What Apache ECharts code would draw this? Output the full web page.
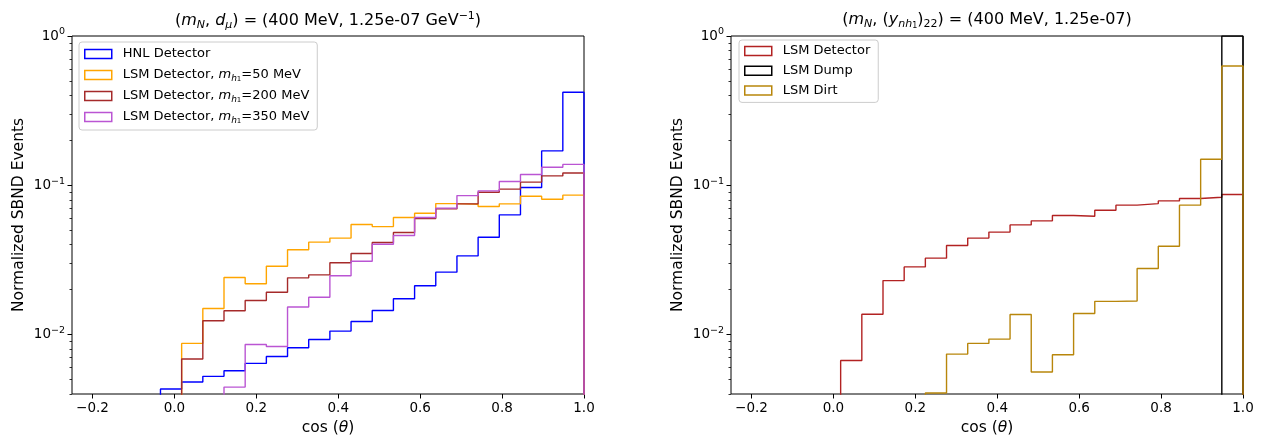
<!DOCTYPE html>
<html><head><meta charset="utf-8">
<script src="https://cdn.jsdelivr.net/npm/echarts@6/dist/echarts.min.js"></script>
<style>html,body{margin:0;padding:0;background:#fff}#c{width:1261px;height:436px}</style>
</head><body><div id="c"></div>
<script>
// ---- data ----
const binEdges = [-0.034, 0.0177, 0.0694, 0.1211, 0.1728, 0.2245, 0.2762, 0.3279, 0.3796, 0.4313,
  0.483, 0.5347, 0.5864, 0.6381, 0.6898, 0.7415, 0.7932, 0.8449, 0.8966, 0.9483, 1.0];
const xTicks = [-0.2, 0.0, 0.2, 0.4, 0.6, 0.8, 1.0];
const yMajorTicks = [0.01, 0.1, 1];
const yMinorTicks = [0.004, 0.005, 0.006, 0.007, 0.008, 0.009,
  0.02, 0.03, 0.04, 0.05, 0.06, 0.07, 0.08, 0.09,
  0.2, 0.3, 0.4, 0.5, 0.6, 0.7, 0.8, 0.9];

// left panel
const hnlDetector = [0.00432, 0.00481, 0.00525, 0.00573, 0.00641, 0.00714, 0.00816, 0.00927, 0.01055, 0.01224,
  0.01449, 0.01737, 0.02123, 0.0262, 0.03366, 0.04488, 0.0634, 0.0966, 0.170, 0.420];
const lsm50 = [0, 0.00873, 0.01495, 0.0241, 0.0219, 0.0287, 0.0370, 0.0416, 0.0443, 0.0546,
  0.0529, 0.0608, 0.0650, 0.0754, 0.0747, 0.0721, 0.0751, 0.0845, 0.0807, 0.0859];
const lsm200 = [0, 0.00686, 0.01237, 0.01443, 0.0169, 0.0192, 0.0240, 0.0251, 0.0303, 0.0349,
  0.0414, 0.0483, 0.0599, 0.0695, 0.0751, 0.0899, 0.0942, 0.105, 0.1156, 0.121];
const lsm350 = [0, 0, 0, 0.00445, 0.00859, 0.00832, 0.0153, 0.0178, 0.0248, 0.0310,
  0.0403, 0.0461, 0.0608, 0.0703, 0.0853, 0.0918, 0.106, 0.118, 0.132, 0.138];

// right panel
const lsmDetector = [0, 0.00671, 0.0137, 0.0230, 0.0284, 0.0325, 0.0395, 0.0443, 0.0486, 0.0543,
  0.0578, 0.0627, 0.0621, 0.0681, 0.0736, 0.0754, 0.0786, 0.0815, 0.0832, 0.0867];
const lsmDump = [0, 0, 0, 0, 0, 0, 0, 0, 0, 0, 0, 0, 0, 0, 0, 0, 0, 0, 0, 1.0];
const lsmDirt = [0, 0, 0, 0, 0, 0.00406, 0.0074, 0.00873, 0.00933, 0.01364,
  0.00561, 0.00733, 0.01384, 0.0167, 0.0168, 0.0277, 0.0391, 0.0736, 0.1496, 0.630];

const Y_MIN = 0.004, Y_MAX = 1, X_MIN = -0.25, X_MAX = 1.0;
const FONT = 'DejaVu Sans';
const TICK_FS = 13.5, LABEL_FS = 15.5, TITLE_FS = 16, LEGEND_FS = 13;

// ---- helpers ----
const lg = v => Math.log10(v);
const LOW = -8; // empty bins fall far below the axis and are clipped
function stepPoints(vals) {
  const pts = [[binEdges[0], LOW]];
  vals.forEach((v, j) => {
    const y = v > 0 ? lg(v) : LOW;
    pts.push([binEdges[j], y], [binEdges[j + 1], y]);
  });
  pts.push([binEdges[binEdges.length - 1], LOW]);
  return pts;
}

const gridPos = [
  { left: 72, top: 36, width: 512, height: 358 },
  { left: 731, top: 36, width: 512, height: 358 }
];

function xAxisFor(i) {
  return {
    type: 'value', gridIndex: i, min: X_MIN, max: X_MAX, position: 'bottom',
    name: 'cos ({t|θ})', nameLocation: 'middle', nameGap: 21,
    nameTextStyle: { fontFamily: FONT, fontSize: LABEL_FS, color: '#000',
      rich: { t: { fontFamily: FONT, fontSize: LABEL_FS, fontStyle: 'italic', color: '#000' } } },
    axisLine: { show: false, onZero: false },
    axisTick: { show: true, length: 4.5, customValues: xTicks, lineStyle: { color: '#000', width: 1 } },
    axisLabel: { show: true, customValues: xTicks, margin: 7, fontFamily: FONT, fontSize: TICK_FS, color: '#000',
      formatter: v => (v < 0 ? '\u2212' : '') + Math.abs(v).toFixed(1) },
    splitLine: { show: false }
  };
}
function yAxisMajor(i) {
  return {
    type: 'value', gridIndex: i, min: lg(Y_MIN), max: lg(Y_MAX), position: 'left',
    name: 'Normalized SBND Events', nameLocation: 'middle', nameGap: 45,
    nameTextStyle: { fontFamily: FONT, fontSize: LABEL_FS, color: '#000' },
    axisLine: { show: false, onZero: false },
    axisTick: { show: true, length: 4.5, customValues: yMajorTicks.map(lg), lineStyle: { color: '#000', width: 1 } },
    axisLabel: { show: true, customValues: yMajorTicks.map(lg), margin: 7, color: '#000',
      formatter: v => { const e = Math.round(v); return '{b|10}{s|' + (e < 0 ? '\u2212' + (-e) : e) + '}'; },
      rich: {
        b: { fontFamily: FONT, fontSize: TICK_FS, lineHeight: 18, color: '#000' },
        s: { fontFamily: FONT, fontSize: 9.5, lineHeight: 10, verticalAlign: 'top', color: '#000' }
      } },
    splitLine: { show: false }
  };
}
function yAxisMinor(i) {
  return {
    type: 'value', gridIndex: i, min: lg(Y_MIN), max: lg(Y_MAX), position: 'left', offset: 0,
    axisLine: { show: false, onZero: false },
    axisTick: { show: true, length: 2.5, customValues: yMinorTicks.map(lg), lineStyle: { color: '#000', width: 0.8 } },
    axisLabel: { show: false },
    splitLine: { show: false }
  };
}

function histSeries(name, vals, color, xi, yi) {
  return {
    name, type: 'line', xAxisIndex: xi, yAxisIndex: yi,
    data: stepPoints(vals), showSymbol: false, symbol: 'none', clip: true,
    lineStyle: { color, width: 1.4 }, itemStyle: { color }, animation: false
  };
}

const C = {
  hnl: '#0000ff', m50: '#ffa500', m200: '#a52a2a', m350: '#ba55d3',
  det: '#b22222', dump: '#000000', dirt: '#b8860b'
};

const names = {
  hnl: 'HNL Detector',
  m50: 'LSM Detector, mh1=50 MeV',
  m200: 'LSM Detector, mh1=200 MeV',
  m350: 'LSM Detector, mh1=350 MeV',
  det: 'LSM Detector', dump: 'LSM Dump', dirt: 'LSM Dirt'
};
const legendLabels = {
  [names.m50]: 'LSM Detector, {i|m}{s|h}{ss|1}=50 MeV',
  [names.m200]: 'LSM Detector, {i|m}{s|h}{ss|1}=200 MeV',
  [names.m350]: 'LSM Detector, {i|m}{s|h}{ss|1}=350 MeV'
};

const legendRich = {
  i: { fontFamily: FONT, fontSize: LEGEND_FS, fontStyle: 'italic', lineHeight: 16, color: '#000' },
  s: { fontFamily: FONT, fontSize: 9, fontStyle: 'italic', lineHeight: 10, verticalAlign: 'bottom', color: '#000' },
  ss: { fontFamily: FONT, fontSize: 7, lineHeight: 6, verticalAlign: 'bottom', color: '#000' }
};
function legendFor(keys, pos) {
  return Object.assign({
    orient: 'vertical', itemWidth: 27, itemHeight: 9, itemGap: 5,
    padding: [4, 8, 5, 5], backgroundColor: 'rgba(255,255,255,0.8)',
    borderColor: '#cccccc', borderWidth: 1, borderRadius: 3,
    selectedMode: false,
    textStyle: { fontFamily: FONT, fontSize: LEGEND_FS, color: '#000', lineHeight: 16, padding: [0, 0, 0, 6], rich: legendRich },
    formatter: n => legendLabels[n] || n,
    data: keys.map(k => ({ name: names[k], icon: 'rect',
      itemStyle: { color: 'rgba(0,0,0,0)', borderColor: C[k], borderWidth: 1.5 } }))
  }, pos);
}

const titleRich = {
  i: { fontFamily: FONT, fontSize: TITLE_FS, fontStyle: 'italic', lineHeight: 20, color: '#000' },
  s: { fontFamily: FONT, fontSize: 11, fontStyle: 'italic', lineHeight: 10, verticalAlign: 'bottom', color: '#000' },
  n: { fontFamily: FONT, fontSize: 11, lineHeight: 10, verticalAlign: 'bottom', color: '#000' },
  ss: { fontFamily: FONT, fontSize: 8, lineHeight: 6, verticalAlign: 'bottom', color: '#000' },
  p: { fontFamily: FONT, fontSize: 11, lineHeight: 10, verticalAlign: 'top', color: '#000' }
};
const titleStyle = { fontFamily: FONT, fontSize: TITLE_FS, fontWeight: 'normal', color: '#000', lineHeight: 20, rich: titleRich };

const option = {
  animation: false,
  backgroundColor: '#fff',
  textStyle: { fontFamily: FONT },
  title: [
    { text: '({i|m}{s|N}, {i|d}{s|μ}) = (400 MeV, 1.25e-07 GeV{p|\u22121})', left: 328, top: 11, textAlign: 'center', textStyle: titleStyle, padding: 0 },
    { text: '({i|m}{s|N}, ({i|y}{s|nh}{ss|1}){n|22}) = (400 MeV, 1.25e-07)', left: 987, top: 10, textAlign: 'center', textStyle: titleStyle, padding: 0 }
  ],
  grid: gridPos.map(g => Object.assign({ show: true, borderColor: '#000', borderWidth: 1, backgroundColor: '#fff',
    containLabel: false, outerBoundsMode: 'none' }, g)),
  xAxis: [xAxisFor(0), xAxisFor(1)],
  yAxis: [yAxisMajor(0), yAxisMinor(0), yAxisMajor(1), yAxisMinor(1)],
  legend: [
    legendFor(['hnl', 'm50', 'm200', 'm350'], { left: 79, top: 42 }),
    legendFor(['det', 'dump', 'dirt'], { left: 739, top: 40, itemGap: 3.7, padding: [3, 8, 4, 5] })
  ],
  series: [
    histSeries(names.hnl, hnlDetector, C.hnl, 0, 0),
    histSeries(names.m50, lsm50, C.m50, 0, 0),
    histSeries(names.m200, lsm200, C.m200, 0, 0),
    histSeries(names.m350, lsm350, C.m350, 0, 0),
    histSeries(names.det, lsmDetector, C.det, 1, 2),
    histSeries(names.dump, lsmDump, C.dump, 1, 2),
    histSeries(names.dirt, lsmDirt, C.dirt, 1, 2)
  ]
};

const chart = echarts.init(document.getElementById('c'), null, { renderer: 'canvas' });
chart.setOption(option);
</script>
</body></html>
